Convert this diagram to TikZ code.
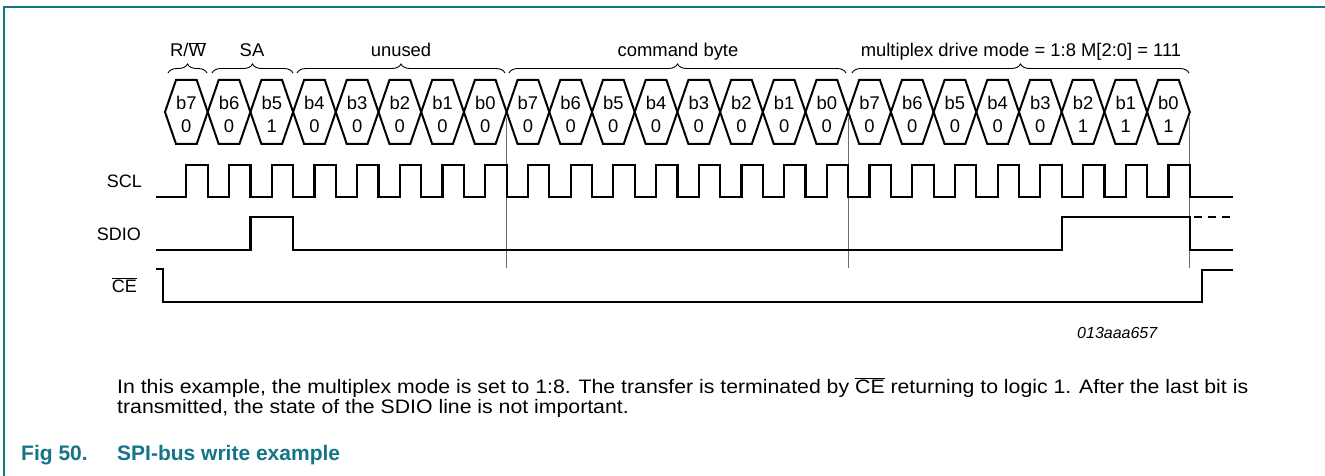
\documentclass[tikz,border=0pt]{standalone}
\usepackage{fontspec}
\setmainfont{Liberation Sans}
\newfontfamily\notefont[FakeStretch=1.09]{Liberation Sans}
\usepackage{xcolor}
\usetikzlibrary{decorations.pathreplacing,positioning,calc}

\definecolor{figteal}{RGB}{22,116,136}
\definecolor{markgray}{RGB}{110,110,110}

\newcommand{\cellx}{165}
\newcommand{\cellw}{42.7}

\begin{document}
\begin{tikzpicture}[
  x=1pt, y=-1pt,
  hexcell/.style={line width=2pt, line join=miter},
  wave/.style={line width=2.2pt, line join=miter},
  marker/.style={draw=markgray, line width=0.8pt},
  grpbrace/.style={decorate, decoration={brace, amplitude=9pt}, line width=0.9pt},
  grplabel/.style={font=\fontsize{18.4}{21}\selectfont, anchor=base, inner sep=0pt},
  bitlabel/.style={font=\fontsize{18.4}{21}\selectfont, anchor=base, inner sep=0pt},
  siglabel/.style={font=\fontsize{18}{21}\selectfont, anchor=base east, inner sep=0pt},
  notetext/.style={font=\notefont\fontsize{19.5}{24}\selectfont, anchor=base west, inner sep=0pt},
  figtitle/.style={font=\fontsize{21}{24}\selectfont\bfseries, text=figteal, anchor=base west, inner sep=0pt}
]
  \useasboundingbox (0,0) rectangle (1325,476);
  % frame
  \draw[figteal, line width=1.5pt] (4,476) -- (4,7) -- (1325,7);

  % group braces and labels
  \draw[grpbrace] (168,73) -- (207,73);
  \draw[grpbrace] (212,73) -- (293,73);
  \draw[grpbrace] (297,73) -- (505,73);
  \draw[grpbrace] (509,73) -- (846,73);
  \draw[grpbrace] (852,73) -- (1189,73);
  \node[grplabel] (rw) at (188,57) {R/$\overline{\mbox{W}}$};
  \node[grplabel] (sa) at (252,57) {SA};
  \node[grplabel] (unused) at (401,57) {unused};
  \node[grplabel] (cmd) at (678,57) {command byte};
  \node[grplabel] (mux) at (1021,57) {multiplex drive mode = 1:8 M[2:0] = 111};

  % bit cells
  \foreach \k/\v in {0/0,1/0,2/1,3/0,4/0,5/0,6/0,7/0,
                     8/0,9/0,10/0,11/0,12/0,13/0,14/0,15/0,
                     16/0,17/0,18/0,19/0,20/0,21/1,22/1,23/1} {
    \pgfmathsetmacro\xa{\cellx+\k*\cellw}
    \pgfmathsetmacro\xb{\xa+\cellw}
    \pgfmathtruncatemacro\bit{7-mod(\k,8)}
    \draw[hexcell] (\xa,112) -- (\xa+11,80) -- (\xb-11,80) -- (\xb,112)
      -- (\xb-11,144) -- (\xa+11,144) -- cycle;
    \node[bitlabel] (bit-\k) at (\xa+\cellw/2,110) {b\bit};
    \node[bitlabel] (val-\k) at (\xa+\cellw/2,133) {\v};
  }

  % byte markers
  \foreach \k in {8,16,24}
    \draw[marker] (\cellx+\k*\cellw,118) -- (\cellx+\k*\cellw,268);

  % signal names
  \node[siglabel] (scl) at (142,187) {SCL};
  \node[siglabel] (sdio) at (141,240) {SDIO};
  \node[siglabel] (ce) at (137,292) {$\overline{\mbox{CE}}$};

  % SCL
  \draw[wave] (156,197)
    foreach \k in {0,...,23} {
      -- (\cellx+\k*\cellw+\cellw/2,197) -- ++(0,-32)
      -- (\cellx+\k*\cellw+\cellw,165) -- ++(0,32)
    } -- (1233,197);
  % SDIO
  \draw[wave] (156,250) -- (\cellx+2*\cellw,250) -- (\cellx+2*\cellw,216.7)
    -- (\cellx+3*\cellw,216.7) -- (\cellx+3*\cellw,250)
    -- (\cellx+21*\cellw,250) -- (\cellx+21*\cellw,216.7)
    -- (\cellx+24*\cellw,216.7) -- (\cellx+24*\cellw,250) -- (1233,250);
  \draw[wave, dash pattern=on 8pt off 6pt, dash phase=-4pt] (\cellx+24*\cellw,216.7) -- (1233,216.7);
  % CE
  \draw[wave] (156,269) -- (163,269) -- (163,302) -- (1201.7,302) -- (1201.7,270) -- (1233,270);

  \node[font=\fontsize{16}{19}\selectfont\itshape, anchor=base west, inner sep=0pt] (figcode) at (1077,338) {013aaa657};

  % note and caption
  \node[notetext] (note1) at (117,393) {In this example, the multiplex mode is set to 1:8. The transfer is terminated by $\overline{\mbox{CE}}$ returning to logic 1. After the last bit is};
  \node[notetext] (note2) at (117,413) {transmitted, the state of the SDIO line is not important.};
  \node[figtitle] (fignum) at (21,460) {Fig 50.};
  \node[figtitle] (figname) at (117,460) {SPI-bus write example};
\end{tikzpicture}
\end{document}
